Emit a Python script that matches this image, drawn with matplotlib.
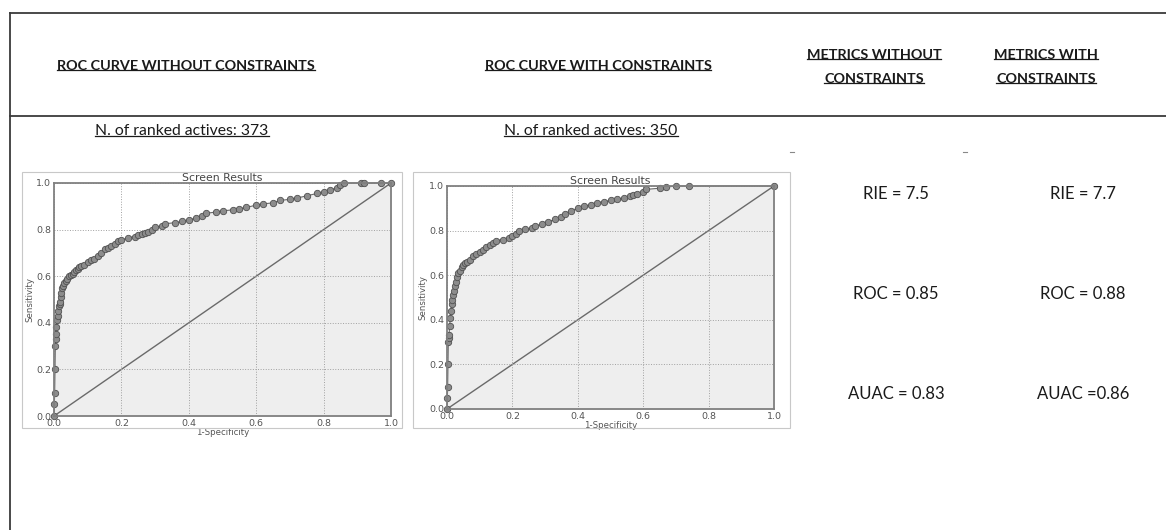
import numpy as np
import matplotlib
matplotlib.use("Agg")
import matplotlib.pyplot as plt
from matplotlib.lines import Line2D
from matplotlib.patches import Rectangle

# ---- data ----
fpr_without = [0.0, 0.001, 0.002, 0.003, 0.004, 0.005, 0.006, 0.007, 0.009, 0.011,
               0.013, 0.015, 0.017, 0.018, 0.02, 0.022, 0.025, 0.028, 0.031, 0.035,
               0.04, 0.045, 0.05, 0.055, 0.06, 0.065, 0.07, 0.075, 0.08, 0.09,
               0.1, 0.11, 0.12, 0.13, 0.14, 0.15, 0.16, 0.17, 0.18, 0.19,
               0.2, 0.22, 0.24, 0.25, 0.26, 0.27, 0.28, 0.29, 0.3, 0.32,
               0.33, 0.36, 0.38, 0.4, 0.42, 0.44, 0.45, 0.48, 0.5, 0.53,
               0.55, 0.57, 0.6, 0.62, 0.65, 0.67, 0.7, 0.72, 0.75, 0.78,
               0.8, 0.82, 0.84, 0.85, 0.86, 0.91, 0.92, 0.97, 1.0]
tpr_without = [0.0, 0.05, 0.1, 0.2, 0.3, 0.33, 0.35, 0.38, 0.41, 0.43,
               0.45, 0.47, 0.48, 0.49, 0.51, 0.53, 0.55, 0.56, 0.57, 0.58,
               0.59, 0.6, 0.605, 0.61, 0.62, 0.625, 0.63, 0.64, 0.645, 0.65,
               0.66, 0.67, 0.675, 0.685, 0.7, 0.715, 0.72, 0.73, 0.74, 0.75,
               0.755, 0.765, 0.77, 0.775, 0.78, 0.785, 0.79, 0.8, 0.81, 0.815,
               0.825, 0.83, 0.835, 0.84, 0.85, 0.86, 0.87, 0.875, 0.88, 0.885,
               0.89, 0.895, 0.905, 0.91, 0.915, 0.925, 0.93, 0.935, 0.945, 0.955,
               0.96, 0.97, 0.98, 0.99, 1.0, 1.0, 1.0, 1.0, 1.0]

fpr_with = [0.0, 0.001, 0.002, 0.003, 0.004, 0.005, 0.006, 0.008, 0.01, 0.012,
            0.014, 0.016, 0.018, 0.02, 0.023, 0.026, 0.03, 0.035, 0.04, 0.045,
            0.05, 0.055, 0.06, 0.07, 0.08, 0.09, 0.1, 0.11, 0.12, 0.13,
            0.14, 0.15, 0.17, 0.19, 0.2, 0.21, 0.22, 0.24, 0.26, 0.27,
            0.29, 0.31, 0.33, 0.35, 0.36, 0.38, 0.4, 0.42, 0.44, 0.46,
            0.48, 0.5, 0.52, 0.54, 0.56, 0.57, 0.58, 0.6, 0.61, 0.65,
            0.67, 0.7, 0.74, 1.0]
tpr_with = [0.0, 0.05, 0.1, 0.2, 0.3, 0.32, 0.33, 0.37, 0.41, 0.44,
            0.47, 0.49, 0.51, 0.53, 0.55, 0.57, 0.59, 0.61, 0.62, 0.635,
            0.645, 0.655, 0.66, 0.67, 0.685, 0.695, 0.705, 0.715, 0.725, 0.735,
            0.745, 0.755, 0.76, 0.765, 0.775, 0.785, 0.8, 0.805, 0.81, 0.82,
            0.83, 0.84, 0.85, 0.86, 0.875, 0.89, 0.9, 0.91, 0.915, 0.925,
            0.93, 0.935, 0.94, 0.945, 0.955, 0.96, 0.965, 0.975, 0.985, 0.99,
            0.995, 1.0, 1.0, 1.0]

headers = ["ROC CURVE WITHOUT CONSTRAINTS", "ROC CURVE WITH CONSTRAINTS",
           "METRICS WITHOUT\nCONSTRAINTS", "METRICS WITH\nCONSTRAINTS"]
ranked_labels = ["N. of ranked actives: 373", "N. of ranked actives: 350"]
metrics_without = ["RIE = 7.5", "ROC = 0.85", "AUAC = 0.83"]
metrics_with = ["RIE = 7.7", "ROC = 0.88", "AUAC =0.86"]

W, H = 1166, 530
fig = plt.figure(figsize=(W / 100, H / 100), dpi=100)
fig.patch.set_facecolor("white")

ink = "#1a1a1a"
body_font = ["Lato", "DejaVu Sans"]


def fx(x):
    return x / W


def fy(y):
    return 1 - y / H


# table rules
line_col = "#3a3a3a"
fig.add_artist(Line2D([fx(10), 1], [fy(13), fy(13)], color=line_col, lw=1.3))
fig.add_artist(Line2D([fx(10), 1], [fy(116), fy(116)], color=line_col, lw=1.3))
fig.add_artist(Line2D([fx(10), fx(10)], [fy(13), 0], color=line_col, lw=1.3))

underlined = []

# header row
hdr_pos = [(186, [66]), (598, [66]), (874, [55, 79]), (1046, [55, 79])]
for text, (x, ys) in zip(headers, hdr_pos):
    for part, y in zip(text.split("\n"), ys):
        t = fig.text(fx(x), fy(y), part, ha="center", va="center", fontsize=10.4,
                     fontweight="bold", color=ink, family=body_font)
        underlined.append(t)

# ranked actives
for text, x in zip(ranked_labels, [182, 591]):
    t = fig.text(fx(x), fy(131), text, ha="center", va="center", fontsize=11.3,
                 color=ink, family=body_font)
    underlined.append(t)

# tiny dash marks
for x in [792, 965]:
    fig.add_artist(Line2D([fx(x - 2), fx(x + 2)], [fy(152), fy(152)],
                          color="#888888", lw=0.8))

# metric values
for i, y in enumerate([194, 294, 394]):
    fig.text(fx(896), fy(y), metrics_without[i], ha="center", va="center",
             fontsize=12, color=ink, family=body_font)
    fig.text(fx(1083), fy(y), metrics_with[i], ha="center", va="center",
             fontsize=12, color=ink, family=body_font)

# picture frames around the two screenshots
for x0, x1 in [(22, 402), (413, 790)]:
    fig.add_artist(Rectangle((fx(x0), fy(428)), fx(x1) - fx(x0), fy(172) - fy(428),
                             fill=False, edgecolor="#c8c8c8", lw=0.8))

# ROC axes
axes_px = [(54, 391, 183, 416), (447, 774, 186, 409)]
curves = [(fpr_without, tpr_without), (fpr_with, tpr_with)]
for (l, r, t, b), (fx_vals, ty_vals) in zip(axes_px, curves):
    ax = fig.add_axes([fx(l), fy(b), fx(r) - fx(l), fy(t) - fy(b)])
    ax.fill_between(fx_vals, 0, ty_vals, color="#eeeeee", zorder=0)
    ax.plot([0, 1], [0, 1], color="#6a6a6a", lw=1.0, zorder=2)
    ax.plot(fx_vals, ty_vals, color="#6a6a6a", lw=0.8, marker="o", markersize=4.6,
            markerfacecolor="#8c8c8c", markeredgecolor="#505050", markeredgewidth=0.6,
            zorder=3, clip_on=False)
    ax.set_xlim(0, 1)
    ax.set_ylim(0, 1)
    ax.set_xticks(np.arange(0, 1.01, 0.2))
    ax.set_yticks(np.arange(0, 1.01, 0.2))
    ax.grid(True, linestyle=":", color="#a0a0a0", lw=0.7)
    ax.set_axisbelow(False)
    for sp in ax.spines.values():
        sp.set_color("#808080")
        sp.set_linewidth(1.3)
        sp.set_zorder(4)
    ax.tick_params(labelsize=6.8, colors="#555555", length=0, pad=2)
    ax.set_title("Screen Results", fontsize=7.8, color="#444444", pad=1.5)
    ax.set_xlabel("1-Specificity", fontsize=6.2, color="#555555", labelpad=0)
    ax.set_ylabel("Sensitivity", fontsize=6.2, color="#555555", labelpad=1)

# underline texts
fig.canvas.draw()
renderer = fig.canvas.get_renderer()
inv = fig.transFigure.inverted()
for t in underlined:
    bb = t.get_window_extent(renderer)
    yl = bb.y0 + 2.5
    p0 = inv.transform((bb.x0, yl))
    p1 = inv.transform((bb.x1, yl))
    fig.add_artist(Line2D([p0[0], p1[0]], [p0[1], p1[1]], color=ink, lw=0.9))

fig.savefig("out.png", dpi=100, facecolor="white")
